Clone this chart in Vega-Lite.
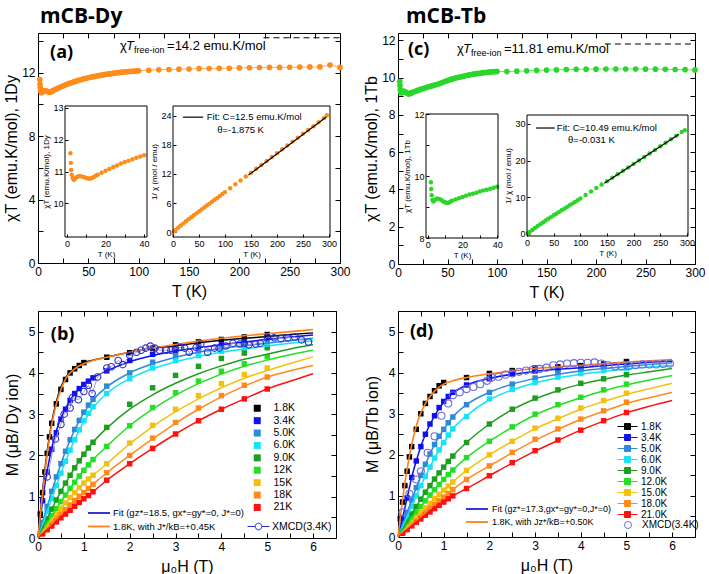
{
"$schema": "https://vega.github.io/schema/vega-lite/v6.json",
"padding": {"left": 3, "top": 5, "right": 2, "bottom": 2},
"config": {
  "font": "Liberation Sans",
  "view": {"stroke": "black", "strokeWidth": 1},
  "axis": {"grid": false, "domain": false, "tickColor": "black", "labelColor": "black", "titleColor": "black", "titleFontWeight": "normal", "labelFont": "Liberation Sans", "titleFont": "Liberation Sans", "labelFontSize": 12, "titleFontSize": 16, "tickSize": -5, "labelPadding": 8, "labelFlush": false, "labelOverlap": false},
  "legend": {"labelFont": "Liberation Sans", "labelColor": "black", "padding": 0, "labelLimit": 300},
  "text": {"font": "Liberation Sans", "color": "black"}
},
"datasets": {
  "dy": [{"T":1.8,"c":11.57},{"T":2,"c":11.27},{"T":2.2,"c":11.05},{"T":2.5,"c":10.9},{"T":3,"c":10.8},{"T":3.5,"c":10.74},{"T":4,"c":10.76},{"T":5,"c":10.82},{"T":6,"c":10.85},{"T":7,"c":10.85},{"T":8,"c":10.84},{"T":9,"c":10.82},{"T":10,"c":10.8},{"T":11,"c":10.78},{"T":12,"c":10.77},{"T":13,"c":10.8},{"T":14,"c":10.83},{"T":15,"c":10.87},{"T":16,"c":10.9},{"T":18,"c":10.96},{"T":20,"c":11.02},{"T":22,"c":11.08},{"T":24,"c":11.14},{"T":26,"c":11.19},{"T":28,"c":11.25},{"T":30,"c":11.3},{"T":32,"c":11.34},{"T":34,"c":11.38},{"T":36,"c":11.43},{"T":38,"c":11.47},{"T":40,"c":11.51},{"T":42,"c":11.55},{"T":44,"c":11.58},{"T":46,"c":11.62},{"T":48,"c":11.65},{"T":50,"c":11.68},{"T":52,"c":11.71},{"T":54,"c":11.74},{"T":56,"c":11.76},{"T":58,"c":11.79},{"T":60,"c":11.81},{"T":62,"c":11.83},{"T":64,"c":11.86},{"T":66,"c":11.88},{"T":68,"c":11.9},{"T":70,"c":11.92},{"T":72,"c":11.93},{"T":74,"c":11.95},{"T":76,"c":11.97},{"T":78,"c":11.99},{"T":80,"c":12.0},{"T":82,"c":12.02},{"T":84,"c":12.03},{"T":86,"c":12.04},{"T":88,"c":12.06},{"T":90,"c":12.07},{"T":92,"c":12.08},{"T":94,"c":12.09},{"T":96,"c":12.1},{"T":98,"c":12.11},{"T":100,"c":12.12},{"T":110,"c":12.15},{"T":120,"c":12.18},{"T":130,"c":12.2},{"T":140,"c":12.22},{"T":150,"c":12.23},{"T":160,"c":12.25},{"T":170,"c":12.26},{"T":180,"c":12.27},{"T":190,"c":12.28},{"T":200,"c":12.3},{"T":210,"c":12.31},{"T":220,"c":12.32},{"T":230,"c":12.33},{"T":240,"c":12.33},{"T":250,"c":12.34},{"T":260,"c":12.35},{"T":270,"c":12.36},{"T":280,"c":12.36},{"T":290,"c":12.48},{"T":300,"c":12.33}],
  "dyInv": [{"T":2,"v":0.17},{"T":5,"v":0.46},{"T":10,"v":0.93},{"T":15,"v":1.38},{"T":20,"v":1.81},{"T":25,"v":2.23},{"T":30,"v":2.65},{"T":35,"v":3.07},{"T":40,"v":3.48},{"T":45,"v":3.87},{"T":50,"v":4.28},{"T":55,"v":4.68},{"T":60,"v":5.08},{"T":65,"v":5.47},{"T":70,"v":5.87},{"T":75,"v":6.27},{"T":80,"v":6.67},{"T":85,"v":7.06},{"T":90,"v":7.46},{"T":95,"v":7.85},{"T":100,"v":8.25},{"T":110,"v":9.05},{"T":120,"v":9.85},{"T":130,"v":10.66},{"T":140,"v":11.46},{"T":150,"v":12.26},{"T":160,"v":13.06},{"T":170,"v":13.86},{"T":180,"v":14.67},{"T":190,"v":15.47},{"T":200,"v":16.26},{"T":210,"v":17.07},{"T":220,"v":17.86},{"T":230,"v":18.66},{"T":240,"v":19.46},{"T":250,"v":20.26},{"T":260,"v":21.05},{"T":270,"v":21.84},{"T":280,"v":22.65},{"T":290,"v":23.5},{"T":296,"v":24.1}],
  "tb": [{"T":1.8,"c":9.8},{"T":2,"c":9.58},{"T":2.3,"c":9.38},{"T":2.7,"c":9.23},{"T":3.2,"c":9.18},{"T":4,"c":9.22},{"T":5,"c":9.27},{"T":6,"c":9.27},{"T":7,"c":9.25},{"T":8,"c":9.22},{"T":9,"c":9.18},{"T":10,"c":9.15},{"T":11,"c":9.13},{"T":12,"c":9.14},{"T":13,"c":9.17},{"T":14,"c":9.2},{"T":16,"c":9.24},{"T":18,"c":9.28},{"T":20,"c":9.32},{"T":22,"c":9.36},{"T":24,"c":9.4},{"T":26,"c":9.43},{"T":28,"c":9.46},{"T":30,"c":9.5},{"T":32,"c":9.53},{"T":34,"c":9.56},{"T":36,"c":9.59},{"T":38,"c":9.62},{"T":40,"c":9.65},{"T":42,"c":9.69},{"T":44,"c":9.73},{"T":46,"c":9.77},{"T":48,"c":9.81},{"T":50,"c":9.85},{"T":52,"c":9.88},{"T":54,"c":9.92},{"T":56,"c":9.95},{"T":58,"c":9.98},{"T":60,"c":10.01},{"T":62,"c":10.03},{"T":64,"c":10.06},{"T":66,"c":10.08},{"T":68,"c":10.1},{"T":70,"c":10.13},{"T":72,"c":10.15},{"T":74,"c":10.17},{"T":76,"c":10.19},{"T":78,"c":10.21},{"T":80,"c":10.22},{"T":82,"c":10.24},{"T":84,"c":10.25},{"T":86,"c":10.27},{"T":88,"c":10.28},{"T":90,"c":10.29},{"T":92,"c":10.3},{"T":94,"c":10.31},{"T":96,"c":10.32},{"T":98,"c":10.33},{"T":100,"c":10.34},{"T":110,"c":10.33},{"T":120,"c":10.35},{"T":130,"c":10.37},{"T":140,"c":10.39},{"T":150,"c":10.41},{"T":160,"c":10.42},{"T":170,"c":10.44},{"T":180,"c":10.45},{"T":190,"c":10.46},{"T":200,"c":10.46},{"T":210,"c":10.47},{"T":220,"c":10.47},{"T":230,"c":10.47},{"T":240,"c":10.47},{"T":250,"c":10.46},{"T":260,"c":10.46},{"T":270,"c":10.45},{"T":280,"c":10.44},{"T":290,"c":10.43},{"T":300,"c":10.42}],
  "tbInv": [{"T":2,"v":0.2},{"T":5,"v":0.54},{"T":10,"v":1.09},{"T":15,"v":1.63},{"T":20,"v":2.15},{"T":25,"v":2.65},{"T":30,"v":3.16},{"T":35,"v":3.65},{"T":40,"v":4.15},{"T":45,"v":4.6},{"T":50,"v":5.08},{"T":55,"v":5.53},{"T":60,"v":5.99},{"T":65,"v":6.45},{"T":70,"v":6.9},{"T":75,"v":7.36},{"T":80,"v":7.83},{"T":85,"v":8.28},{"T":90,"v":8.75},{"T":95,"v":9.2},{"T":100,"v":9.67},{"T":110,"v":10.65},{"T":120,"v":11.6},{"T":130,"v":12.54},{"T":140,"v":13.47},{"T":150,"v":14.41},{"T":160,"v":15.35},{"T":170,"v":16.28},{"T":180,"v":17.22},{"T":190,"v":18.16},{"T":200,"v":19.12},{"T":210,"v":20.06},{"T":220,"v":21.01},{"T":230,"v":21.97},{"T":240,"v":22.92},{"T":250,"v":23.9},{"T":260,"v":24.86},{"T":270,"v":25.84},{"T":280,"v":26.82},{"T":290,"v":27.8},{"T":296,"v":28.3}],
  "bSq": [
    {"T":"1.8K","H":[0.05,0.1,0.15,0.2,0.25,0.3,0.4,0.5,0.6,0.7,0.8,0.9,1,1.5,2,2.5,3,3.5,4,4.5,5],"M":[0.58,1.1,1.6,2.05,2.45,2.78,3.25,3.6,3.84,4.0,4.1,4.18,4.25,4.38,4.49,4.6,4.68,4.75,4.81,4.87,4.93]},
    {"T":"3.4K","H":[0.1,0.2,0.3,0.4,0.5,0.6,0.7,0.8,0.9,1,1.1,1.2,1.5,2,2.5,3,3.5,4,4.5,5],"M":[0.9,1.6,2.15,2.55,2.88,3.12,3.33,3.5,3.62,3.72,3.8,3.88,4.05,4.3,4.45,4.53,4.6,4.68,4.76,4.85]},
    {"T":"5.0K","H":[0.1,0.2,0.3,0.4,0.5,0.6,0.7,0.8,0.9,1,1.1,1.2,1.5,2,2.5,3,3.5,4,4.5,5],"M":[0.38,0.76,1.13,1.48,1.8,2.1,2.38,2.63,2.85,3.05,3.22,3.36,3.68,4.0,4.26,4.42,4.52,4.6,4.67,4.74]},
    {"T":"6.0K","H":[0.1,0.2,0.3,0.4,0.5,0.6,0.7,0.8,0.9,1,1.1,1.2,1.5,2,2.5,3,3.5,4,4.5,5],"M":[0.32,0.64,0.96,1.27,1.57,1.86,2.13,2.38,2.62,2.84,3.02,3.18,3.5,3.86,4.12,4.3,4.42,4.52,4.6,4.67]},
    {"T":"9.0K","H":[0.1,0.2,0.3,0.4,0.5,0.6,0.7,0.8,0.9,1,1.1,1.2,1.5,2,2.5,3,3.5,4,4.5,5],"M":[0.24,0.47,0.7,0.92,1.13,1.33,1.52,1.7,1.87,2.03,2.18,2.32,2.68,3.24,3.64,3.94,4.16,4.35,4.48,4.61]},
    {"T":"12K","H":[0.1,0.2,0.3,0.4,0.5,0.6,0.7,0.8,0.9,1,1.1,1.2,1.5,2,2.5,3,3.5,4,4.5,5],"M":[0.18,0.36,0.54,0.71,0.88,1.04,1.2,1.35,1.5,1.64,1.77,1.9,2.22,2.72,3.16,3.52,3.8,4.04,4.22,4.39]},
    {"T":"15K","H":[0.1,0.2,0.3,0.4,0.5,0.6,0.7,0.8,0.9,1,1.1,1.2,1.5,2,2.5,3,3.5,4,4.5,5],"M":[0.15,0.3,0.44,0.58,0.72,0.85,0.98,1.1,1.22,1.33,1.43,1.52,1.8,2.3,2.73,3.12,3.45,3.74,3.96,4.12]},
    {"T":"18K","H":[0.1,0.2,0.3,0.4,0.5,0.6,0.7,0.8,0.9,1,1.1,1.2,1.5,2,2.5,3,3.5,4,4.5,5],"M":[0.12,0.24,0.35,0.47,0.58,0.69,0.8,0.91,1.01,1.1,1.2,1.3,1.58,2.0,2.42,2.8,3.15,3.45,3.7,3.9]},
    {"T":"21K","H":[0.1,0.2,0.3,0.4,0.5,0.6,0.7,0.8,0.9,1,1.1,1.2,1.5,2,2.5,3,3.5,4,4.5,5],"M":[0.1,0.2,0.29,0.39,0.49,0.58,0.67,0.77,0.86,0.95,1.03,1.12,1.4,1.8,2.17,2.52,2.84,3.12,3.37,3.61]}
  ],
  "bFit": [
    {"T":"1.8K","H":[0,0.05,0.1,0.15,0.2,0.3,0.4,0.5,0.6,0.8,1,1.2,1.5,2,2.5,3,3.5,4,4.5,5,5.5,6],"M":[0,0.6,1.15,1.65,2.1,2.8,3.3,3.65,3.88,4.12,4.25,4.31,4.38,4.5,4.59,4.66,4.73,4.79,4.84,4.88,4.93,4.97]},
    {"T":"3.4K","H":[0,0.05,0.1,0.15,0.2,0.3,0.4,0.5,0.6,0.8,1,1.2,1.5,2,2.5,3,3.5,4,4.5,5,5.5,6],"M":[0,0.45,0.9,1.3,1.62,2.18,2.6,2.9,3.14,3.5,3.73,3.88,4.05,4.27,4.42,4.53,4.61,4.68,4.75,4.81,4.87,4.92]},
    {"T":"5.0K","H":[0,0.05,0.1,0.15,0.2,0.3,0.4,0.5,0.6,0.8,1,1.2,1.5,2,2.5,3,3.5,4,4.5,5,5.5,6],"M":[0,0.19,0.38,0.57,0.76,1.13,1.48,1.8,2.1,2.62,3.03,3.34,3.66,4.0,4.22,4.38,4.5,4.59,4.66,4.72,4.78,4.84]},
    {"T":"6.0K","H":[0,0.05,0.1,0.15,0.2,0.3,0.4,0.5,0.6,0.8,1,1.2,1.5,2,2.5,3,3.5,4,4.5,5,5.5,6],"M":[0,0.16,0.32,0.48,0.64,0.96,1.27,1.57,1.86,2.38,2.82,3.15,3.5,3.86,4.1,4.27,4.4,4.5,4.58,4.65,4.72,4.78]},
    {"T":"9.0K","H":[0,0.05,0.1,0.15,0.2,0.3,0.4,0.5,0.6,0.8,1,1.2,1.5,2,2.5,3,3.5,4,4.5,5,5.5,6],"M":[0,0.12,0.24,0.36,0.47,0.7,0.92,1.13,1.33,1.7,2.03,2.32,2.66,3.12,3.47,3.75,3.98,4.17,4.33,4.45,4.58,4.68]},
    {"T":"12K","H":[0,0.05,0.1,0.15,0.2,0.3,0.4,0.5,0.6,0.8,1,1.2,1.5,2,2.5,3,3.5,4,4.5,5,5.5,6],"M":[0,0.09,0.18,0.27,0.36,0.54,0.71,0.88,1.04,1.35,1.64,1.9,2.22,2.72,3.12,3.46,3.74,3.97,4.16,4.31,4.44,4.55]},
    {"T":"15K","H":[0,0.05,0.1,0.15,0.2,0.3,0.4,0.5,0.6,0.8,1,1.2,1.5,2,2.5,3,3.5,4,4.5,5,5.5,6],"M":[0,0.075,0.15,0.22,0.3,0.44,0.58,0.72,0.85,1.1,1.33,1.52,1.8,2.28,2.7,3.06,3.37,3.64,3.87,4.06,4.23,4.39]},
    {"T":"18K","H":[0,0.05,0.1,0.15,0.2,0.3,0.4,0.5,0.6,0.8,1,1.2,1.5,2,2.5,3,3.5,4,4.5,5,5.5,6],"M":[0,0.06,0.12,0.18,0.24,0.35,0.47,0.58,0.69,0.91,1.1,1.3,1.58,2.0,2.4,2.78,3.12,3.42,3.68,3.9,4.05,4.18]},
    {"T":"21K","H":[0,0.05,0.1,0.15,0.2,0.3,0.4,0.5,0.6,0.8,1,1.2,1.5,2,2.5,3,3.5,4,4.5,5,5.5,6],"M":[0,0.05,0.1,0.15,0.2,0.29,0.39,0.49,0.58,0.77,0.95,1.12,1.4,1.8,2.17,2.52,2.84,3.12,3.37,3.61,3.8,3.98]}
  ],
  "bJ": [{"lab":"1.8K, with J*/kB=+0.45K","H":[0,0.05,0.1,0.15,0.2,0.3,0.4,0.5,0.6,0.8,1,1.2,1.5,2,2.5,3,3.5,4,4.5,5,5.5,6],"M":[0,0.55,1.08,1.58,2.02,2.75,3.25,3.6,3.85,4.1,4.22,4.3,4.38,4.5,4.6,4.69,4.77,4.84,4.9,4.95,5.0,5.05]}],
  "bX": [{"lab":"XMCD(3.4K)","H":[0.2,0.38,0.5,0.57,0.7,0.75,0.88,1.0,1.1,1.18,1.3,1.5,1.6,1.75,1.85,2.0,2.15,2.25,2.35,2.45,2.55,2.65,2.8,2.9,3.0,3.1,3.2,3.3,3.45,3.55,3.7,3.85,3.95,4.1,4.25,4.4,4.5,4.6,4.75,4.85,5.0,5.15,5.3,5.45,5.6,5.75,5.9],"M":[1.48,2.4,2.75,3.0,3.15,3.4,3.35,3.55,3.7,3.5,3.9,4.12,4.15,4.3,4.2,4.43,4.5,4.55,4.6,4.65,4.6,4.55,4.55,4.55,4.58,4.62,4.6,4.5,4.62,4.7,4.5,4.6,4.6,4.65,4.72,4.7,4.72,4.68,4.7,4.72,4.87,4.85,4.83,4.85,4.87,4.8,4.75]}],
  "dSq": [
    {"T":"1.8K","H":[0.05,0.1,0.15,0.2,0.25,0.3,0.4,0.5,0.6,0.7,0.8,0.9,1,1.5,2,2.5,3,3.5,4,4.5,5],"M":[0.45,0.85,1.25,1.6,1.95,2.2,2.62,3.0,3.25,3.42,3.56,3.68,3.76,3.88,3.98,4.05,4.11,4.14,4.17,4.21,4.27]},
    {"T":"3.4K","H":[0.1,0.2,0.3,0.4,0.5,0.6,0.7,0.8,0.9,1,1.1,1.2,1.5,2,2.5,3,3.5,4,4.5,5],"M":[0.45,0.95,1.45,1.85,2.2,2.5,2.75,2.95,3.15,3.3,3.42,3.52,3.7,3.85,3.97,4.04,4.08,4.12,4.17,4.22]},
    {"T":"5.0K","H":[0.1,0.2,0.3,0.4,0.5,0.6,0.7,0.8,0.9,1,1.1,1.2,1.5,2,2.5,3,3.5,4,4.5,5],"M":[0.3,0.6,0.9,1.2,1.5,1.77,2.02,2.25,2.45,2.62,2.78,2.92,3.22,3.52,3.72,3.87,3.99,4.07,4.12,4.17]},
    {"T":"6.0K","H":[0.1,0.2,0.3,0.4,0.5,0.6,0.7,0.8,0.9,1,1.1,1.2,1.5,2,2.5,3,3.5,4,4.5,5],"M":[0.25,0.5,0.75,1.0,1.25,1.48,1.7,1.92,2.12,2.3,2.48,2.63,2.93,3.36,3.59,3.76,3.89,3.98,4.05,4.11]},
    {"T":"9.0K","H":[0.1,0.2,0.3,0.4,0.5,0.6,0.7,0.8,0.9,1,1.1,1.2,1.5,2,2.5,3,3.5,4,4.5,5],"M":[0.19,0.38,0.56,0.74,0.92,1.09,1.25,1.41,1.56,1.7,1.84,1.97,2.3,2.75,3.11,3.38,3.58,3.74,3.85,3.95]},
    {"T":"12.0K","H":[0.1,0.2,0.3,0.4,0.5,0.6,0.7,0.8,0.9,1,1.1,1.2,1.5,2,2.5,3,3.5,4,4.5,5],"M":[0.15,0.3,0.45,0.6,0.74,0.88,1.02,1.15,1.28,1.4,1.52,1.63,1.93,2.33,2.68,2.99,3.22,3.4,3.58,3.72]},
    {"T":"15.0K","H":[0.1,0.2,0.3,0.4,0.5,0.6,0.7,0.8,0.9,1,1.1,1.2,1.5,2,2.5,3,3.5,4,4.5,5],"M":[0.12,0.24,0.36,0.48,0.6,0.71,0.82,0.93,1.04,1.14,1.24,1.34,1.62,2.0,2.33,2.65,2.89,3.14,3.32,3.5]},
    {"T":"18.0K","H":[0.1,0.2,0.3,0.4,0.5,0.6,0.7,0.8,0.9,1,1.1,1.2,1.5,2,2.5,3,3.5,4,4.5,5],"M":[0.1,0.2,0.3,0.4,0.5,0.6,0.7,0.79,0.88,0.97,1.06,1.15,1.4,1.73,2.06,2.38,2.63,2.87,3.07,3.28]},
    {"T":"21.0K","H":[0.1,0.2,0.3,0.4,0.5,0.6,0.7,0.8,0.9,1,1.1,1.2,1.5,2,2.5,3,3.5,4,4.5,5],"M":[0.09,0.18,0.27,0.36,0.44,0.53,0.61,0.69,0.77,0.85,0.93,1.0,1.18,1.49,1.81,2.1,2.36,2.6,2.83,3.03]}
  ],
  "dFit": [
    {"T":"3.4K","H":[0,0.05,0.1,0.15,0.2,0.3,0.4,0.5,0.6,0.8,1,1.2,1.5,2,2.5,3,3.5,4,4.5,5,5.5,6],"M":[0,0.23,0.47,0.71,0.95,1.45,1.85,2.2,2.5,2.95,3.28,3.5,3.7,3.86,3.96,4.03,4.08,4.12,4.17,4.21,4.25,4.28]},
    {"T":"5.0K","H":[0,0.05,0.1,0.15,0.2,0.3,0.4,0.5,0.6,0.8,1,1.2,1.5,2,2.5,3,3.5,4,4.5,5,5.5,6],"M":[0,0.15,0.3,0.45,0.6,0.9,1.2,1.5,1.77,2.25,2.62,2.92,3.22,3.52,3.72,3.86,3.96,4.04,4.1,4.15,4.2,4.24]},
    {"T":"6.0K","H":[0,0.05,0.1,0.15,0.2,0.3,0.4,0.5,0.6,0.8,1,1.2,1.5,2,2.5,3,3.5,4,4.5,5,5.5,6],"M":[0,0.125,0.25,0.37,0.5,0.75,1.0,1.25,1.48,1.92,2.3,2.63,2.95,3.34,3.58,3.75,3.87,3.96,4.03,4.09,4.14,4.18]},
    {"T":"9.0K","H":[0,0.05,0.1,0.15,0.2,0.3,0.4,0.5,0.6,0.8,1,1.2,1.5,2,2.5,3,3.5,4,4.5,5,5.5,6],"M":[0,0.095,0.19,0.28,0.38,0.56,0.74,0.92,1.09,1.41,1.7,1.97,2.3,2.75,3.1,3.36,3.56,3.72,3.84,3.94,4.02,4.1]},
    {"T":"12.0K","H":[0,0.05,0.1,0.15,0.2,0.3,0.4,0.5,0.6,0.8,1,1.2,1.5,2,2.5,3,3.5,4,4.5,5,5.5,6],"M":[0,0.075,0.15,0.22,0.3,0.45,0.6,0.74,0.88,1.15,1.4,1.63,1.93,2.33,2.67,2.97,3.2,3.39,3.56,3.7,3.82,3.93]},
    {"T":"15.0K","H":[0,0.05,0.1,0.15,0.2,0.3,0.4,0.5,0.6,0.8,1,1.2,1.5,2,2.5,3,3.5,4,4.5,5,5.5,6],"M":[0,0.06,0.12,0.18,0.24,0.36,0.48,0.6,0.71,0.93,1.14,1.34,1.62,2.0,2.33,2.63,2.88,3.11,3.3,3.47,3.61,3.74]},
    {"T":"18.0K","H":[0,0.05,0.1,0.15,0.2,0.3,0.4,0.5,0.6,0.8,1,1.2,1.5,2,2.5,3,3.5,4,4.5,5,5.5,6],"M":[0,0.05,0.1,0.15,0.2,0.3,0.4,0.5,0.6,0.79,0.97,1.15,1.4,1.73,2.05,2.35,2.62,2.86,3.06,3.25,3.39,3.52]},
    {"T":"21.0K","H":[0,0.05,0.1,0.15,0.2,0.3,0.4,0.5,0.6,0.8,1,1.2,1.5,2,2.5,3,3.5,4,4.5,5,5.5,6],"M":[0,0.045,0.09,0.135,0.18,0.27,0.36,0.44,0.53,0.69,0.85,1.0,1.18,1.49,1.8,2.09,2.35,2.6,2.82,3.02,3.18,3.32]}
  ],
  "dJ": [{"lab":"1.8K, with Jz*/kB=+0.50K","H":[0,0.05,0.1,0.15,0.2,0.3,0.4,0.5,0.6,0.8,1,1.2,1.5,2,2.5,3,3.5,4,4.5,5,5.5,6],"M":[0,0.47,0.9,1.3,1.65,2.25,2.7,3.02,3.25,3.55,3.72,3.8,3.88,3.97,4.04,4.1,4.14,4.18,4.22,4.26,4.29,4.32]}],
  "dX": [{"lab":"XMCD(3.4K)","H":[0.1,0.25,0.4,0.5,0.65,0.8,0.95,1.1,1.2,1.35,1.5,1.65,1.8,1.95,2.05,2.2,2.35,2.5,2.65,2.8,2.95,3.1,3.25,3.4,3.55,3.7,3.85,4.0,4.15,4.3,4.45,4.6,4.75,4.9,5.05,5.2,5.35,5.5,5.65,5.8,5.95],"M":[0.6,1.05,1.4,1.6,2.05,2.45,2.95,3.25,3.45,3.52,3.6,3.65,3.72,3.8,3.88,3.9,3.95,3.98,4.02,4.05,4.07,4.09,4.12,4.18,4.2,4.22,4.23,4.24,4.24,4.25,4.22,4.18,4.15,4.15,4.16,4.18,4.2,4.2,4.2,4.21,4.22]}]
},
"columns": 2,
"bounds": "flush",
"spacing": {"row": 47, "column": 58},
"resolve": {"scale": {"fill": "independent", "stroke": "independent", "color": "independent", "opacity": "independent"}, "legend": {"fill": "independent", "stroke": "independent", "color": "independent", "opacity": "independent"}},
"concat": [
{
  "width": 302, "height": 230,
  "title": {"text": "mCB-Dy", "anchor": "start", "frame": "group", "font": "Open Sans", "fontSize": 21, "fontWeight": "bold", "offset": 6, "dx": 2, "color": "black"},
  "resolve": {"scale": {"x": "independent", "y": "independent"}, "axis": {"x": "independent", "y": "independent"}},
  "layer": [
    {"resolve": {"axis": {"x": "independent", "y": "independent"}},
     "layer": [
      {"data": {"name": "dy"}, "mark": {"type": "line", "color": "#ff8c1a", "strokeWidth": 1, "opacity": 0.7},
       "encoding": {
         "x": {"field": "T", "type": "quantitative", "scale": {"domain": [0, 300], "nice": false, "zero": false},
               "axis": {"orient": "bottom", "title": "T (K)", "values": [0,25,50,75,100,125,150,175,200,225,250,275,300], "labelExpr": "datum.value % 50 === 0 ? format(datum.value, 'd') : ''", "titlePadding": 6}},
         "y": {"field": "c", "type": "quantitative", "scale": {"domain": [0, 14.5], "nice": false, "zero": false},
               "axis": {"orient": "left", "title": "χT (emu.K/mol), 1Dy", "values": [0,2,4,6,8,10,12,14], "labelExpr": "datum.value % 4 === 0 ? format(datum.value, 'd') : ''", "titlePadding": 2}}}},
      {"data": {"name": "dy"}, "mark": {"type": "circle", "color": "#ff8c1a", "size": 32, "opacity": 1},
       "encoding": {"x": {"field": "T", "type": "quantitative", "axis": null}, "y": {"field": "c", "type": "quantitative", "axis": null}}},
      {"data": {"values": [{}]}, "mark": {"type": "rule", "color": "black", "strokeDash": [6, 4], "strokeWidth": 1},
       "encoding": {"x": {"datum": 224, "axis": null}, "x2": {"datum": 300}, "y": {"datum": 14.2, "axis": null}}},
      {"data": {"values": [{}]}, "mark": {"type": "text", "text": "χ", "align": "left", "baseline": "middle", "fontSize": 13},
       "encoding": {"x": {"datum": 81.5, "axis": null}, "y": {"datum": 13.7, "axis": null}}},
      {"data": {"values": [{}]}, "mark": {"type": "text", "text": "T", "align": "left", "baseline": "middle", "fontSize": 13, "fontStyle": "italic", "dx": 6},
       "encoding": {"x": {"datum": 81.5, "axis": null}, "y": {"datum": 13.7, "axis": null}}},
      {"data": {"values": [{}]}, "mark": {"type": "text", "text": "free-ion", "align": "left", "baseline": "middle", "fontSize": 9, "dx": 14, "dy": 4},
       "encoding": {"x": {"datum": 81.5, "axis": null}, "y": {"datum": 13.7, "axis": null}}},
      {"data": {"values": [{}]}, "mark": {"type": "text", "text": "=14.2 emu.K/mol", "align": "left", "baseline": "middle", "fontSize": 13, "dx": 47},
       "encoding": {"x": {"datum": 81.5, "axis": null}, "y": {"datum": 13.7, "axis": null}}},
      {"data": {"values": [{}]}, "mark": {"type": "text", "text": "(a)", "align": "left", "baseline": "middle", "fontSize": 18, "font": "Open Sans", "fontWeight": "bold"},
       "encoding": {"x": {"datum": 12, "axis": {"orient": "top", "values": [0,25,50,75,100,125,150,175,200,225,250,275,300], "labels": false, "title": null, "minExtent": 0, "maxExtent": 0, "labelPadding": 0}},
                    "y": {"datum": 13.26, "axis": {"orient": "right", "values": [0,2,4,6,8,10,12,14], "labels": false, "title": null, "minExtent": 0, "maxExtent": 0, "labelPadding": 0}}}}
    ]},
    {"layer": [
      {"data": {"name": "dy"}, "transform": [{"filter": "datum.T <= 40"}],
       "mark": {"type": "circle", "color": "#ff8c1a", "size": 20, "opacity": 1},
       "encoding": {
         "x": {"field": "T", "type": "quantitative", "scale": {"domain": [-1, 41.5], "range": [27, 109], "nice": false, "zero": false},
               "axis": {"orient": "bottom", "offset": -26, "title": "T (K)", "values": [0,10,20,30,40], "labelExpr": "datum.value % 20 === 0 ? format(datum.value, 'd') : ''", "labelFontSize": 9, "titleFontSize": 8, "tickSize": -3, "labelPadding": 5, "titlePadding": 2}},
         "y": {"field": "c", "type": "quantitative", "scale": {"domain": [8.95, 13.05], "range": [204, 73], "nice": false, "zero": false},
               "axis": {"orient": "left", "offset": -27, "title": "χT (emu.K/mol), 1Dy", "values": [10,11,12,13], "labelExpr": "format(datum.value, 'd')", "labelFontSize": 9, "titleFontSize": 8, "tickSize": -3, "labelPadding": 5, "titlePadding": 2}}}},
      {"data": {"values": [{}]}, "mark": {"type": "rect", "fill": "white", "fillOpacity": 0, "stroke": "black", "strokeWidth": 1},
       "encoding": {"x": {"datum": -1}, "x2": {"datum": 41.5}, "y": {"datum": 8.95}, "y2": {"datum": 13.05}}}
    ]},
    {"layer": [
      {"data": {"name": "dyInv"}, "mark": {"type": "circle", "color": "#ff8c1a", "size": 20, "opacity": 1},
       "encoding": {
         "x": {"field": "T", "type": "quantitative", "scale": {"domain": [0, 302], "range": [135, 292], "nice": false, "zero": false},
               "axis": {"orient": "bottom", "offset": -26, "title": "T (K)", "values": [0,50,100,150,200,250,300], "labelExpr": "format(datum.value, 'd')", "labelFontSize": 9, "titleFontSize": 8, "tickSize": -3, "labelPadding": 5, "titlePadding": 2}},
         "y": {"field": "v", "type": "quantitative", "scale": {"domain": [-1, 26], "range": [204, 73], "nice": false, "zero": false},
               "axis": {"orient": "left", "offset": -135, "title": "1/ χ (mol / emu)", "values": [0,6,12,18,24], "labelExpr": "format(datum.value, 'd')", "labelFontSize": 9, "titleFontSize": 8, "tickSize": -3, "labelPadding": 5, "titlePadding": 2}}}},
      {"data": {"values": [{"T": 145, "v": 11.75}, {"T": 295, "v": 23.75}]}, "mark": {"type": "line", "color": "black", "strokeWidth": 1.2},
       "encoding": {"x": {"field": "T", "type": "quantitative"}, "y": {"field": "v", "type": "quantitative"}}},
      {"data": {"values": [{}]}, "mark": {"type": "rule", "color": "black", "strokeWidth": 1.2},
       "encoding": {"x": {"datum": 19}, "x2": {"datum": 58}, "y": {"datum": 23.7}}},
      {"data": {"values": [{}]}, "mark": {"type": "text", "text": "Fit: C=12.5 emu.K/mol", "align": "left", "baseline": "middle", "fontSize": 9.5},
       "encoding": {"x": {"datum": 65}, "y": {"datum": 23.7}}},
      {"data": {"values": [{}]}, "mark": {"type": "text", "text": "θ=-1.875 K", "align": "left", "baseline": "middle", "fontSize": 9.5},
       "encoding": {"x": {"datum": 85}, "y": {"datum": 21.0}}},
      {"data": {"values": [{}]}, "mark": {"type": "rect", "fill": "white", "fillOpacity": 0, "stroke": "black", "strokeWidth": 1},
       "encoding": {"x": {"datum": 0}, "x2": {"datum": 302}, "y": {"datum": -1}, "y2": {"datum": 26}}}
    ]}
  ]
},
{
  "width": 297, "height": 231,
  "title": {"text": "mCB-Tb", "anchor": "start", "frame": "group", "font": "Open Sans", "fontSize": 21, "fontWeight": "bold", "offset": 6, "dx": 8, "color": "black"},
  "resolve": {"scale": {"x": "independent", "y": "independent"}, "axis": {"x": "independent", "y": "independent"}},
  "layer": [
    {"resolve": {"axis": {"x": "independent", "y": "independent"}},
     "layer": [
      {"data": {"name": "tb"}, "mark": {"type": "line", "color": "#2bd62b", "strokeWidth": 1, "opacity": 0.7},
       "encoding": {
         "x": {"field": "T", "type": "quantitative", "scale": {"domain": [0, 300], "nice": false, "zero": false},
               "axis": {"orient": "bottom", "title": "T (K)", "values": [0,25,50,75,100,125,150,175,200,225,250,275,300], "labelExpr": "datum.value % 50 === 0 ? format(datum.value, 'd') : ''", "titlePadding": 6}},
         "y": {"field": "c", "type": "quantitative", "scale": {"domain": [0, 12.4], "nice": false, "zero": false},
               "axis": {"orient": "left", "title": "χT (emu.K/mol), 1Tb", "values": [0,1,2,3,4,5,6,7,8,9,10,11,12], "labelExpr": "datum.value % 2 === 0 ? format(datum.value, 'd') : ''", "titlePadding": 2}}}},
      {"data": {"name": "tb"}, "mark": {"type": "circle", "color": "#2bd62b", "size": 32, "opacity": 1},
       "encoding": {"x": {"field": "T", "type": "quantitative", "axis": null}, "y": {"field": "c", "type": "quantitative", "axis": null}}},
      {"data": {"values": [{}]}, "mark": {"type": "rule", "color": "black", "strokeDash": [6, 4], "strokeWidth": 1},
       "encoding": {"x": {"datum": 209, "axis": null}, "x2": {"datum": 300}, "y": {"datum": 11.81, "axis": null}}},
      {"data": {"values": [{}]}, "mark": {"type": "text", "text": "χ", "align": "left", "baseline": "middle", "fontSize": 13},
       "encoding": {"x": {"datum": 59.6, "axis": null}, "y": {"datum": 11.52, "axis": null}}},
      {"data": {"values": [{}]}, "mark": {"type": "text", "text": "T", "align": "left", "baseline": "middle", "fontSize": 13, "fontStyle": "italic", "dx": 6},
       "encoding": {"x": {"datum": 59.6, "axis": null}, "y": {"datum": 11.52, "axis": null}}},
      {"data": {"values": [{}]}, "mark": {"type": "text", "text": "free-ion", "align": "left", "baseline": "middle", "fontSize": 9, "dx": 14, "dy": 4},
       "encoding": {"x": {"datum": 59.6, "axis": null}, "y": {"datum": 11.52, "axis": null}}},
      {"data": {"values": [{}]}, "mark": {"type": "text", "text": "=11.81 emu.K/mol", "align": "left", "baseline": "middle", "fontSize": 13, "dx": 47},
       "encoding": {"x": {"datum": 59.6, "axis": null}, "y": {"datum": 11.52, "axis": null}}},
      {"data": {"values": [{}]}, "mark": {"type": "text", "text": "(c)", "align": "left", "baseline": "middle", "fontSize": 18, "font": "Open Sans", "fontWeight": "bold"},
       "encoding": {"x": {"datum": 10, "axis": {"orient": "top", "values": [0,25,50,75,100,125,150,175,200,225,250,275,300], "labels": false, "title": null, "minExtent": 0, "maxExtent": 0, "labelPadding": 0}},
                    "y": {"datum": 11.5, "axis": {"orient": "right", "values": [0,1,2,3,4,5,6,7,8,9,10,11,12], "labels": false, "title": null, "minExtent": 0, "maxExtent": 0, "labelPadding": 0}}}}
    ]},
    {"layer": [
      {"data": {"name": "tb"}, "transform": [{"filter": "datum.T <= 40"}],
       "mark": {"type": "circle", "color": "#2bd62b", "size": 20, "opacity": 1},
       "encoding": {
         "x": {"field": "T", "type": "quantitative", "scale": {"domain": [-1, 40.5], "range": [28, 100], "nice": false, "zero": false},
               "axis": {"orient": "bottom", "offset": -26, "title": "T (K)", "values": [0,10,20,30,40], "labelExpr": "datum.value % 20 === 0 ? format(datum.value, 'd') : ''", "labelFontSize": 9, "titleFontSize": 8, "tickSize": -3, "labelPadding": 5, "titlePadding": 2}},
         "y": {"field": "c", "type": "quantitative", "scale": {"domain": [8, 12], "range": [205, 81], "nice": false, "zero": false},
               "axis": {"orient": "left", "offset": -28, "title": "χT (emu.K/mol), 1Tb", "values": [8,9,10,11,12], "labelExpr": "datum.value % 2 === 0 ? format(datum.value, 'd') : ''", "labelFontSize": 9, "titleFontSize": 8, "tickSize": -3, "labelPadding": 5, "titlePadding": 2}}}},
      {"data": {"values": [{}]}, "mark": {"type": "rect", "fill": "white", "fillOpacity": 0, "stroke": "black", "strokeWidth": 1},
       "encoding": {"x": {"datum": -1}, "x2": {"datum": 40.5}, "y": {"datum": 8}, "y2": {"datum": 12}}}
    ]},
    {"layer": [
      {"data": {"name": "tbInv"}, "mark": {"type": "circle", "color": "#2bd62b", "size": 20, "opacity": 1},
       "encoding": {
         "x": {"field": "T", "type": "quantitative", "scale": {"domain": [0, 302], "range": [129, 290], "nice": false, "zero": false},
               "axis": {"orient": "bottom", "offset": -28, "title": "T (K)", "values": [0,50,100,150,200,250,300], "labelExpr": "format(datum.value, 'd')", "labelFontSize": 9, "titleFontSize": 8, "tickSize": -3, "labelPadding": 5, "titlePadding": 2}},
         "y": {"field": "v", "type": "quantitative", "scale": {"domain": [-0.55, 32.45], "range": [203, 82], "nice": false, "zero": false},
               "axis": {"orient": "left", "offset": -129, "title": "1/ χ (mol / emu)", "values": [0,5,10,15,20,25,30], "labelExpr": "format(datum.value, 'd')", "labelFontSize": 9, "titleFontSize": 8, "tickSize": -3, "labelPadding": 5, "titlePadding": 2}}}},
      {"data": {"values": [{"T": 145, "v": 13.83}, {"T": 285, "v": 27.17}]}, "mark": {"type": "line", "color": "black", "strokeWidth": 1.2},
       "encoding": {"x": {"field": "T", "type": "quantitative"}, "y": {"field": "v", "type": "quantitative"}}},
      {"data": {"values": [{}]}, "mark": {"type": "rule", "color": "black", "strokeWidth": 1.2},
       "encoding": {"x": {"datum": 17}, "x2": {"datum": 52}, "y": {"datum": 28.9}}},
      {"data": {"values": [{}]}, "mark": {"type": "text", "text": "Fit: C=10.49 emu.K/mol", "align": "left", "baseline": "middle", "fontSize": 9.5},
       "encoding": {"x": {"datum": 56}, "y": {"datum": 28.9}}},
      {"data": {"values": [{}]}, "mark": {"type": "text", "text": "θ=-0.031 K", "align": "left", "baseline": "middle", "fontSize": 9.5},
       "encoding": {"x": {"datum": 77}, "y": {"datum": 25.6}}},
      {"data": {"values": [{}]}, "mark": {"type": "rect", "fill": "white", "fillOpacity": 0, "stroke": "black", "strokeWidth": 1},
       "encoding": {"x": {"datum": 0}, "x2": {"datum": 302}, "y": {"datum": -0.55}, "y2": {"datum": 32.45}}}
    ]}
  ]
},
{
  "width": 298, "height": 227,
  "resolve": {"axis": {"x": "independent", "y": "independent"}},
  "layer": [
    {"data": {"name": "bSq"}, "transform": [{"flatten": ["H", "M"]}],
     "mark": {"type": "point", "shape": "square", "filled": true, "size": 30, "opacity": 1},
     "encoding": {
       "x": {"field": "H", "type": "quantitative", "scale": {"domain": [0, 6.5], "nice": false, "zero": false},
             "axis": {"orient": "bottom", "title": "μ₀H (T)", "values": [0,0.5,1,1.5,2,2.5,3,3.5,4,4.5,5,5.5,6,6.5], "labelExpr": "datum.value % 1 === 0 ? format(datum.value, 'd') : ''", "titlePadding": 6}},
       "y": {"field": "M", "type": "quantitative", "scale": {"domain": [0, 5.5], "nice": false, "zero": false},
             "axis": {"orient": "left", "title": "M (μB/ Dy ion)", "values": [0,0.5,1,1.5,2,2.5,3,3.5,4,4.5,5,5.5], "labelExpr": "datum.value % 1 === 0 ? format(datum.value, 'd') : ''", "titlePadding": 8}},
       "fill": {"field": "T", "type": "nominal",
                "scale": {"domain": ["1.8K","3.4K","5.0K","6.0K","9.0K","12K","15K","18K","21K"], "range": ["#000000","#1010f0","#2e8ad8","#14e4f4","#1e9e1e","#22e022","#f2c10f","#ff8a1a","#ff1010"]},
                "legend": {"orient": "none", "legendX": 214, "legendY": 92, "title": null, "symbolType": "square", "symbolSize": 49, "symbolStrokeWidth": 0, "labelFontSize": 10.5, "labelOffset": 11, "rowPadding": 1.4, "padding": 0}}}},
    {"data": {"name": "bFit"}, "transform": [{"flatten": ["H", "M"]}],
     "mark": {"type": "line", "strokeWidth": 1.5, "interpolate": "monotone"},
     "encoding": {
       "x": {"field": "H", "type": "quantitative", "axis": null},
       "y": {"field": "M", "type": "quantitative", "axis": null},
       "stroke": {"field": "T", "type": "nominal",
                "scale": {"domain": ["1.8K","3.4K","5.0K","6.0K","9.0K","12K","15K","18K","21K"], "range": ["#000000","#1010f0","#2e8ad8","#14e4f4","#1e9e1e","#22e022","#f2c10f","#ff8a1a","#ff1010"]},
                "legend": {"orient": "none", "legendX": 214, "legendY": 92, "title": null, "symbolType": "square", "symbolSize": 49, "symbolStrokeWidth": 0, "labelFontSize": 10.5, "labelOffset": 11, "rowPadding": 1.4, "padding": 0}}}},
    {"data": {"name": "bJ"}, "transform": [{"flatten": ["H", "M"]}],
     "mark": {"type": "line", "strokeWidth": 1.6, "interpolate": "monotone"},
     "encoding": {
       "x": {"field": "H", "type": "quantitative", "axis": null},
       "y": {"field": "M", "type": "quantitative", "axis": null},
       "color": {"field": "lab", "type": "nominal",
                 "scale": {"domain": ["Fit (gz*=18.5, gx*=gy*=0, J*=0)", "1.8K, with J*/kB=+0.45K"], "range": ["#1f1fd6", "#ff7f1a"]},
                 "legend": {"orient": "none", "legendX": 54, "legendY": 195, "title": null, "symbolType": "M-1.83,0H1.83", "symbolSize": 144, "symbolStrokeWidth": 1.8, "labelFontSize": 9.5, "labelOffset": 7, "rowPadding": 1.5, "padding": 0}}}},
    {"data": {"name": "bX"}, "transform": [{"flatten": ["H", "M"]}],
     "mark": {"type": "line", "color": "#9a9ae8", "strokeWidth": 1},
     "encoding": {"x": {"field": "H", "type": "quantitative", "axis": null}, "y": {"field": "M", "type": "quantitative", "axis": null}}},
    {"data": {"name": "bX"}, "transform": [{"flatten": ["H", "M"]}],
     "mark": {"type": "point", "shape": "circle", "filled": false, "color": "#2a2ad0", "size": 42, "strokeWidth": 1.1},
     "encoding": {
       "x": {"field": "H", "type": "quantitative", "axis": null},
       "y": {"field": "M", "type": "quantitative", "axis": null},
       "opacity": {"field": "lab", "type": "nominal", "scale": {"type": "ordinal", "domain": ["XMCD(3.4K)"], "range": [1]},
                   "legend": {"orient": "none", "legendX": 214, "legendY": 209, "title": null, "symbolType": "M-1.83,0H-0.55M0.55,0H1.83M-0.55,0A0.55,0.55,0,1,1,0.55,0A0.55,0.55,0,1,1,-0.55,0", "symbolSize": 144, "symbolStrokeColor": "#2a2ad0", "symbolFillColor": "transparent", "symbolStrokeWidth": 1, "labelFontSize": 10.5, "labelOffset": 7, "padding": 0}}}},
    {"data": {"values": [{}]}, "mark": {"type": "text", "text": "(b)", "align": "left", "baseline": "middle", "fontSize": 18, "font": "Open Sans", "fontWeight": "bold"},
     "encoding": {"x": {"datum": 0.28, "axis": {"orient": "top", "values": [0,0.5,1,1.5,2,2.5,3,3.5,4,4.5,5,5.5,6,6.5], "labels": false, "title": null, "minExtent": 0, "maxExtent": 0, "labelPadding": 0}},
                  "y": {"datum": 4.92, "axis": {"orient": "right", "values": [0,0.5,1,1.5,2,2.5,3,3.5,4,4.5,5,5.5], "labels": false, "title": null, "minExtent": 0, "maxExtent": 0, "labelPadding": 0}}}}
  ]
},
{
  "width": 297, "height": 226,
  "resolve": {"axis": {"x": "independent", "y": "independent"}},
  "layer": [
    {"data": {"name": "dSq"}, "transform": [{"flatten": ["H", "M"]}],
     "mark": {"type": "point", "shape": "square", "filled": true, "size": 30, "opacity": 1},
     "encoding": {
       "x": {"field": "H", "type": "quantitative", "scale": {"domain": [0, 6.5], "nice": false, "zero": false},
             "axis": {"orient": "bottom", "title": "μ₀H (T)", "values": [0,0.5,1,1.5,2,2.5,3,3.5,4,4.5,5,5.5,6,6.5], "labelExpr": "datum.value % 1 === 0 ? format(datum.value, 'd') : ''", "titlePadding": 6}},
       "y": {"field": "M", "type": "quantitative", "scale": {"domain": [0, 5.5], "nice": false, "zero": false},
             "axis": {"orient": "left", "title": "M (μB/Tb ion)", "values": [0,0.5,1,1.5,2,2.5,3,3.5,4,4.5,5,5.5], "labelExpr": "datum.value % 1 === 0 ? format(datum.value, 'd') : ''", "titlePadding": 8}},
       "fill": {"field": "T", "type": "nominal",
                "scale": {"domain": ["1.8K","3.4K","5.0K","6.0K","9.0K","12.0K","15.0K","18.0K","21.0K"], "range": ["#000000","#1010f0","#2e8ad8","#14e4f4","#1e9e1e","#22e022","#f2c10f","#ff8a1a","#ff1010"]},
                "legend": {"orient": "none", "legendX": 224, "legendY": 110, "title": null, "symbolType": "M-2,0H2M-0.6,-0.6H0.6V0.6H-0.6Z", "symbolSize": 100, "symbolStrokeWidth": 1, "labelFontSize": 10, "labelOffset": 8, "rowPadding": 0, "padding": 0}}}},
    {"data": {"name": "dFit"}, "transform": [{"flatten": ["H", "M"]}],
     "mark": {"type": "line", "strokeWidth": 1.5, "interpolate": "monotone"},
     "encoding": {
       "x": {"field": "H", "type": "quantitative", "axis": null},
       "y": {"field": "M", "type": "quantitative", "axis": null},
       "stroke": {"field": "T", "type": "nominal",
                "scale": {"domain": ["1.8K","3.4K","5.0K","6.0K","9.0K","12.0K","15.0K","18.0K","21.0K"], "range": ["#000000","#1010f0","#2e8ad8","#14e4f4","#1e9e1e","#22e022","#f2c10f","#ff8a1a","#ff1010"]},
                "legend": {"orient": "none", "legendX": 224, "legendY": 110, "title": null, "symbolType": "M-2,0H2M-0.6,-0.6H0.6V0.6H-0.6Z", "symbolSize": 100, "symbolStrokeWidth": 1, "labelFontSize": 10, "labelOffset": 8, "rowPadding": 0, "padding": 0}}}},
    {"data": {"name": "dJ"}, "transform": [{"flatten": ["H", "M"]}],
     "mark": {"type": "line", "strokeWidth": 1.6, "interpolate": "monotone"},
     "encoding": {
       "x": {"field": "H", "type": "quantitative", "axis": null},
       "y": {"field": "M", "type": "quantitative", "axis": null},
       "color": {"field": "lab", "type": "nominal",
                 "scale": {"domain": ["Fit (gz*=17.3,gx*=gy*=0,J*=0)", "1.8K, with Jz*/kB=+0.50K"], "range": ["#1f1fd6", "#ff7f1a"]},
                 "legend": {"orient": "none", "legendX": 72, "legendY": 191, "title": null, "symbolType": "M-1.83,0H1.83", "symbolSize": 144, "symbolStrokeWidth": 1.8, "labelFontSize": 9, "labelOffset": 8, "rowPadding": 1, "padding": 0}}}},
    {"data": {"name": "dX"}, "transform": [{"flatten": ["H", "M"]}],
     "mark": {"type": "point", "shape": "circle", "filled": false, "color": "#6a6ae0", "size": 50, "strokeWidth": 1.1},
     "encoding": {
       "x": {"field": "H", "type": "quantitative", "axis": null},
       "y": {"field": "M", "type": "quantitative", "axis": null},
       "opacity": {"field": "lab", "type": "nominal", "scale": {"type": "ordinal", "domain": ["XMCD(3.4K)"], "range": [1]},
                   "legend": {"orient": "none", "legendX": 225, "legendY": 209, "title": null, "symbolType": "circle", "symbolSize": 49, "symbolStrokeColor": "#6a6ae0", "symbolFillColor": "transparent", "symbolStrokeWidth": 1, "labelFontSize": 10, "labelOffset": 9, "padding": 0}}}},
    {"data": {"values": [{}]}, "mark": {"type": "text", "text": "(d)", "align": "left", "baseline": "middle", "fontSize": 18, "font": "Open Sans", "fontWeight": "bold"},
     "encoding": {"x": {"datum": 0.26, "axis": {"orient": "top", "values": [0,0.5,1,1.5,2,2.5,3,3.5,4,4.5,5,5.5,6,6.5], "labels": false, "title": null, "minExtent": 0, "maxExtent": 0, "labelPadding": 0}},
                  "y": {"datum": 4.98, "axis": {"orient": "right", "values": [0,0.5,1,1.5,2,2.5,3,3.5,4,4.5,5,5.5], "labels": false, "title": null, "minExtent": 0, "maxExtent": 0, "labelPadding": 0}}}}
  ]
}
]
}
